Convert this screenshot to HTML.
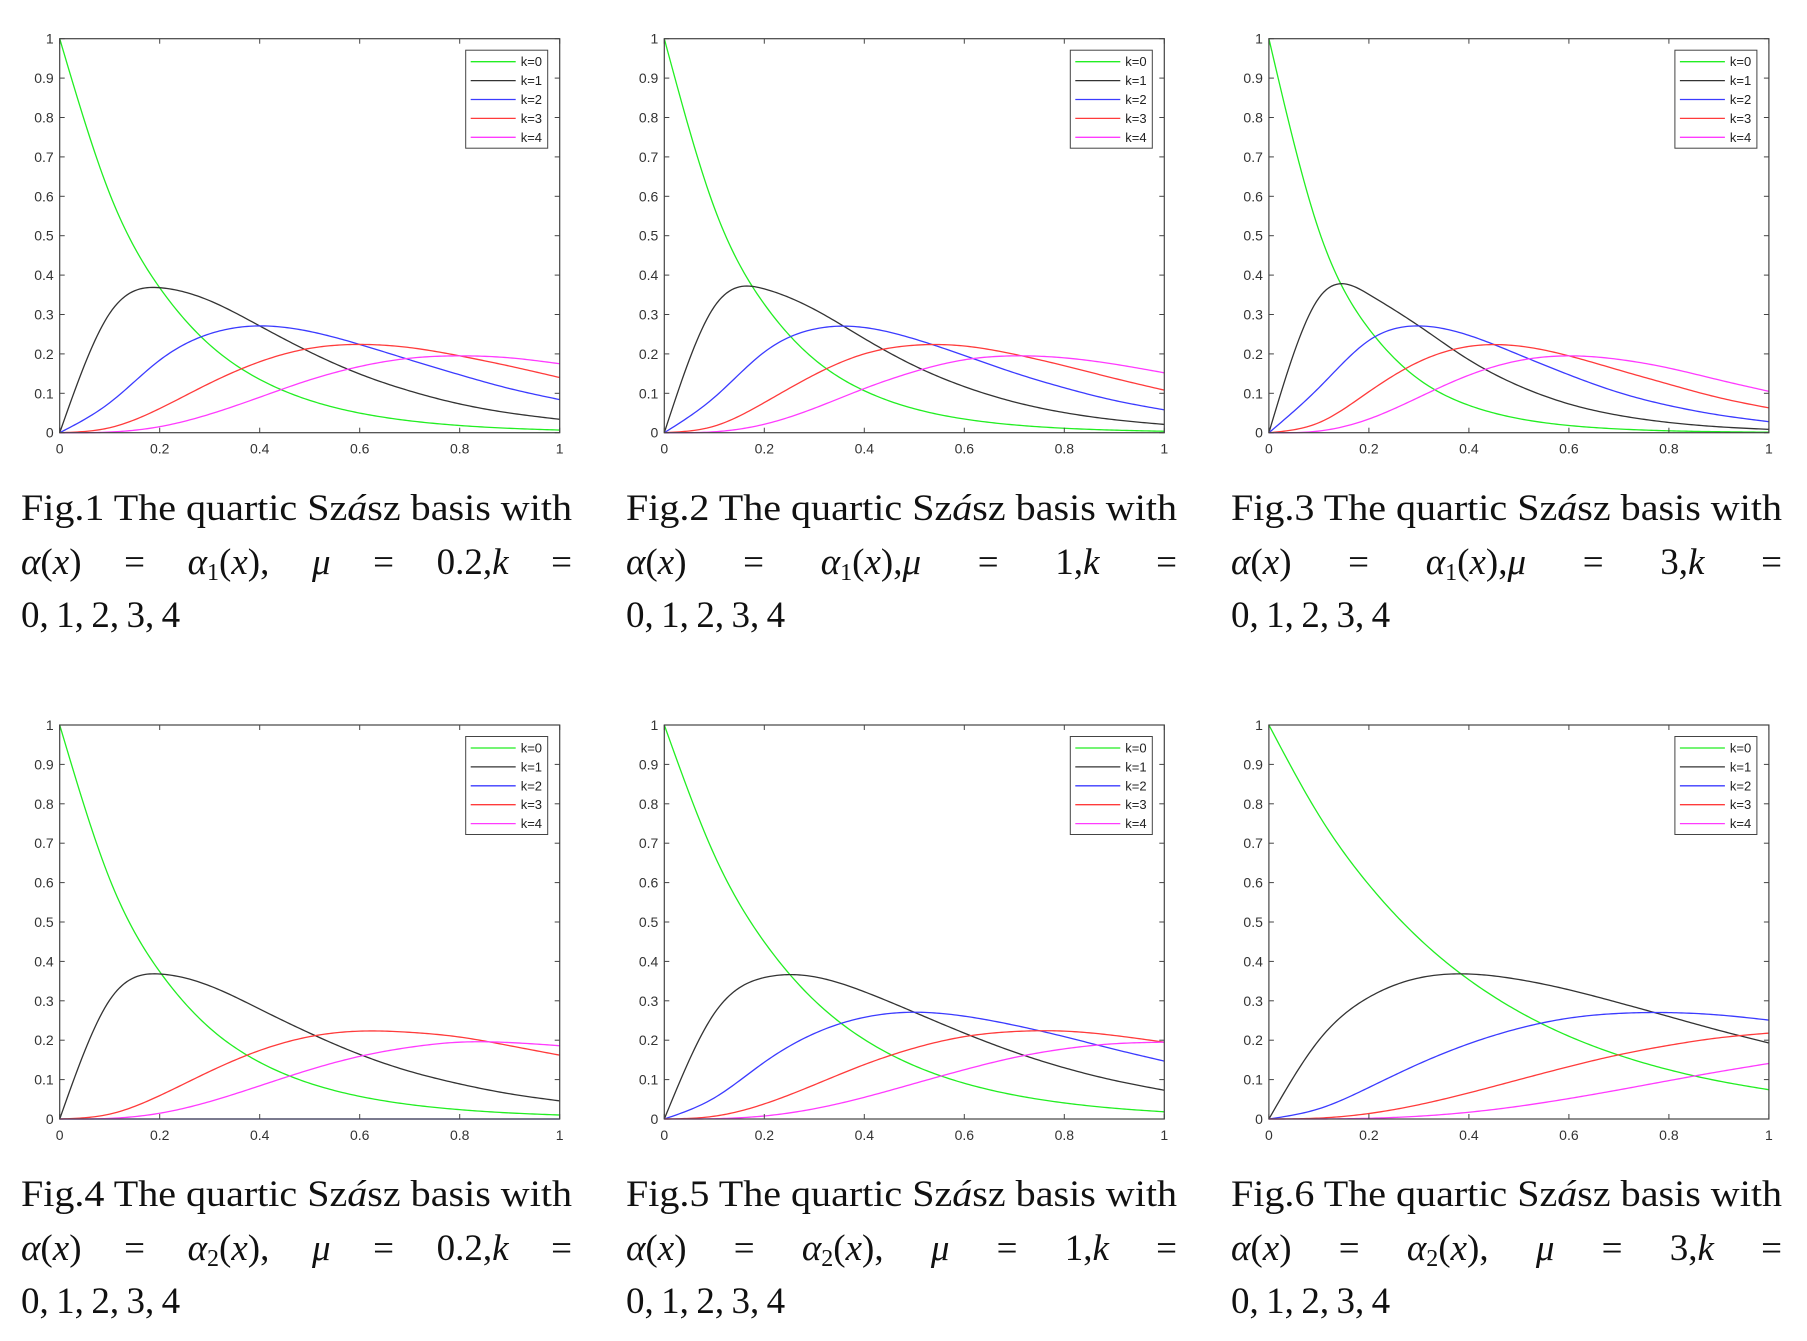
<!DOCTYPE html>
<html><head><meta charset="utf-8">
<style>
body{margin:0;background:#fff;width:1807px;height:1341px;position:relative;overflow:hidden;font-family:"Liberation Serif",serif;}
.cap{position:absolute;width:551px;font-size:37px;color:#111;line-height:1;}
.ln{position:absolute;left:0;width:551px;display:flex;justify-content:space-between;white-space:nowrap;}
.ln1{display:block;transform-origin:0 0;width:auto;}
.ln3{justify-content:flex-start;}
i{font-style:italic;}
sub{font-size:24px;vertical-align:-6px;line-height:0;}
svg text{font-family:"Liberation Sans",sans-serif;}
</style></head>
<body>
<svg id="charts" width="1807" height="1341" style="position:absolute;left:0;top:0"></svg>

<div class="cap" style="left:21px;top:490px">
<div class="ln ln1" style="top:0">Fig.1 The quartic Sz<i>á</i>sz basis with</div>
<div class="ln" style="top:54px"><span><i>α</i>(<i>x</i>)</span><span>=</span><span><i>α</i><sub>1</sub>(<i>x</i>),</span><span><i>μ</i></span><span>=</span><span>0.2,<i>k</i></span><span>=</span></div>
<div class="ln ln3" style="top:107px"><span>0,&#8201;1,&#8201;2,&#8201;3,&#8201;4</span></div>
</div>
<div class="cap" style="left:626px;top:490px">
<div class="ln ln1" style="top:0">Fig.2 The quartic Sz<i>á</i>sz basis with</div>
<div class="ln" style="top:54px"><span><i>α</i>(<i>x</i>)</span><span>=</span><span><i>α</i><sub>1</sub>(<i>x</i>),<i>μ</i></span><span>=</span><span>1,<i>k</i></span><span>=</span></div>
<div class="ln ln3" style="top:107px"><span>0,&#8201;1,&#8201;2,&#8201;3,&#8201;4</span></div>
</div>
<div class="cap" style="left:1231px;top:490px">
<div class="ln ln1" style="top:0">Fig.3 The quartic Sz<i>á</i>sz basis with</div>
<div class="ln" style="top:54px"><span><i>α</i>(<i>x</i>)</span><span>=</span><span><i>α</i><sub>1</sub>(<i>x</i>),<i>μ</i></span><span>=</span><span>3,<i>k</i></span><span>=</span></div>
<div class="ln ln3" style="top:107px"><span>0,&#8201;1,&#8201;2,&#8201;3,&#8201;4</span></div>
</div>
<div class="cap" style="left:21px;top:1176px">
<div class="ln ln1" style="top:0">Fig.4 The quartic Sz<i>á</i>sz basis with</div>
<div class="ln" style="top:54px"><span><i>α</i>(<i>x</i>)</span><span>=</span><span><i>α</i><sub>2</sub>(<i>x</i>),</span><span><i>μ</i></span><span>=</span><span>0.2,<i>k</i></span><span>=</span></div>
<div class="ln ln3" style="top:107px"><span>0,&#8201;1,&#8201;2,&#8201;3,&#8201;4</span></div>
</div>
<div class="cap" style="left:626px;top:1176px">
<div class="ln ln1" style="top:0">Fig.5 The quartic Sz<i>á</i>sz basis with</div>
<div class="ln" style="top:54px"><span><i>α</i>(<i>x</i>)</span><span>=</span><span><i>α</i><sub>2</sub>(<i>x</i>),</span><span><i>μ</i></span><span>=</span><span>1,<i>k</i></span><span>=</span></div>
<div class="ln ln3" style="top:107px"><span>0,&#8201;1,&#8201;2,&#8201;3,&#8201;4</span></div>
</div>
<div class="cap" style="left:1231px;top:1176px">
<div class="ln ln1" style="top:0">Fig.6 The quartic Sz<i>á</i>sz basis with</div>
<div class="ln" style="top:54px"><span><i>α</i>(<i>x</i>)</span><span>=</span><span><i>α</i><sub>2</sub>(<i>x</i>),</span><span><i>μ</i></span><span>=</span><span>3,<i>k</i></span><span>=</span></div>
<div class="ln ln3" style="top:107px"><span>0,&#8201;1,&#8201;2,&#8201;3,&#8201;4</span></div>
</div>

<script>
const xs = [0,0.1,0.2,0.3,0.4,0.5,0.6,0.7,0.8,0.9,1];
const xTicks = [0,0.2,0.4,0.6,0.8,1];
const xTickLabels = ["0","0.2","0.4","0.6","0.8","1"];
const yTicks = [0,0.1,0.2,0.3,0.4,0.5,0.6,0.7,0.8,0.9,1];
const yTickLabels = ["0","0.1","0.2","0.3","0.4","0.5","0.6","0.7","0.8","0.9","1"];
const seriesNames = ["k=0","k=1","k=2","k=3","k=4"];
const seriesColors = ["#22ee22","#333333","#3b3bff","#ff3b3b","#ff3bff"];

const fig1K0 = [1,.6065,.3679,.2231,.1353,.0821,.0498,.0302,.0183,.0111,.0067];
const fig1K1 = [0,.303,.368,.335,.271,.205,.149,.106,.073,.050,.034];
const fig1K2 = [0,.076,.184,.251,.271,.257,.224,.185,.147,.112,.084];
const fig1K3 = [0,.0126,.0613,.1255,.180,.214,.224,.216,.195,.169,.140];
const fig1K4 = [0,.0016,.0153,.047,.090,.134,.168,.189,.195,.190,.175];

const fig2K0 = [1,.5712,.3263,.1864,.1065,.0608,.0347,.0198,.0113,.0065,.0037];
const fig2K1 = [0,.320,.365,.313,.239,.170,.117,.078,.051,.033,.021];
const fig2K2 = [0,.0896,.2046,.263,.267,.238,.196,.152,.114,.082,.058];
const fig2K3 = [0,.0167,.0764,.147,.200,.222,.220,.199,.170,.138,.108];
const fig2K4 = [0,.0023,.0214,.062,.112,.155,.185,.195,.190,.174,.152];

const fig3K0 = [1,.5134,.2636,.1353,.0695,.0357,.0183,.0094,.0048,.0025,.0013];
const fig3K1 = [0,.342,.351,.271,.185,.119,.073,.044,.026,.015,.0085];
const fig3K2 = [0,.114,.234,.271,.247,.198,.147,.102,.069,.045,.028];
const fig3K3 = [0,.0254,.104,.180,.219,.220,.195,.159,.123,.089,.063];
const fig3K4 = [0,.0042,.0347,.090,.146,.183,.195,.186,.164,.134,.105];

const fig4K0 = [1,.609,.374,.231,.144,.0907,.0575,.0367,.0237,.0154,.0101];
const fig4K1 = [0,.302,.368,.338,.279,.218,.164,.121,.089,.064,.046];
const fig4K2 = [0,0,0,0,0,0,0,0,0,0,0];
const fig4K3 = [0,.0124,.0594,.1207,.174,.209,.223,.220,.208,.186,.162];
const fig4K4 = [0,.0015,.0146,.0442,.0842,.125,.159,.182,.195,.194,.186];

const fig5K0 = [1,.6703,.4493,.3012,.2019,.1353,.0907,.0608,.0408,.0273,.0183];
const fig5K1 = [0,.268,.359,.361,.323,.271,.218,.170,.130,.098,.073];
const fig5K2 = [0,.0536,.144,.217,.258,.271,.261,.238,.209,.177,.147];
const fig5K3 = [0,.0071,.0383,.0867,.138,.180,.209,.222,.223,.212,.195];
const fig5K4 = [0,.0007,.0077,.026,.055,.090,.125,.156,.178,.191,.195];

const fig6K0 = [1,.7711,.5945,.4584,.3535,.2725,.2101,.1620,.1249,.0963,.0743];
const fig6K1 = [0,.200,.309,.358,.368,.354,.328,.295,.260,.225,.193];
const fig6K2 = [0,.026,.080,.140,.191,.230,.256,.268,.270,.264,.251];
const fig6K3 = [0,.0023,.0139,.0363,.0663,.0998,.133,.163,.187,.206,.218];
const fig6K4 = [0,.0001,.0018,.0071,.0172,.0324,.0519,.0740,.0974,.120,.141];

const figures = [
  [fig1K0,fig1K1,fig1K2,fig1K3,fig1K4],
  [fig2K0,fig2K1,fig2K2,fig2K3,fig2K4],
  [fig3K0,fig3K1,fig3K2,fig3K3,fig3K4],
  [fig4K0,fig4K1,fig4K2,fig4K3,fig4K4],
  [fig5K0,fig5K1,fig5K2,fig5K3,fig5K4],
  [fig6K0,fig6K1,fig6K2,fig6K3,fig6K4]
];

const NS = "http://www.w3.org/2000/svg";
const root = document.getElementById("charts");
function mk(tag, attrs, parent){
  const e = document.createElementNS(NS, tag);
  for (const k in attrs) e.setAttribute(k, attrs[k]);
  parent.appendChild(e);
  return e;
}
const PW = 500, PH = 394;

// natural cubic spline through (xs, ys), evaluated densely
function splineSample(X, Y, n){
  const N = X.length, h = [], a = [], m = new Array(N).fill(0);
  for (let i = 0; i < N-1; i++) h.push(X[i+1]-X[i]);
  const lo = new Array(N).fill(0), di = new Array(N).fill(1), up = new Array(N).fill(0), r = new Array(N).fill(0);
  for (let i = 1; i < N-1; i++){
    lo[i] = h[i-1]; di[i] = 2*(h[i-1]+h[i]); up[i] = h[i];
    r[i] = 6*((Y[i+1]-Y[i])/h[i] - (Y[i]-Y[i-1])/h[i-1]);
  }
  for (let i = 1; i < N; i++){ const w = lo[i]/di[i-1]; di[i] -= w*up[i-1]; r[i] -= w*r[i-1]; }
  m[N-1] = r[N-1]/di[N-1];
  for (let i = N-2; i >= 0; i--) m[i] = (r[i]-up[i]*m[i+1])/di[i];
  m[0] = 0; m[N-1] = 0;
  const out = [];
  for (let s = 0; s <= n; s++){
    const x = X[0] + (X[N-1]-X[0])*s/n;
    let i = Math.min(N-2, Math.floor((x-X[0])/h[0]));
    const t1 = X[i+1]-x, t0 = x-X[i], hh = h[i];
    const y = m[i]*t1*t1*t1/(6*hh) + m[i+1]*t0*t0*t0/(6*hh) + (Y[i]/hh - m[i]*hh/6)*t1 + (Y[i+1]/hh - m[i+1]*hh/6)*t0;
    out.push([x, Math.max(0, y)]);
  }
  return out;
}

figures.forEach((series, fi) => {
  const col = fi % 3, row = Math.floor(fi / 3);
  const L = 59.7 + col * 604.6, T = 38.7 + row * 686.3;
  const sx = v => L + v * PW;
  const sy = v => T + PH - v * PH;
  const g = mk("g", {}, root);
  
  

  series.forEach((vals, si) => {
    const pts = splineSample(xs, vals, 200).map(p => sx(p[0]).toFixed(2) + "," + sy(p[1]).toFixed(2));
    const p = mk("polyline", {points: pts.join(" "), fill: "none", stroke: seriesColors[si], "stroke-width": 1.3}, g);
    
    
  });

  const box = mk("rect", {x: L, y: T, width: PW, height: PH, fill: "none", stroke: "#444", "stroke-width": 1.2}, g);
  
  

  xTicks.forEach((t, i) => {
    const x = sx(t);
    mk("line", {x1: x, y1: T+PH, x2: x, y2: T+PH-5, stroke: "#444", "stroke-width": 1}, g);
    mk("line", {x1: x, y1: T, x2: x, y2: T+5, stroke: "#444", "stroke-width": 1}, g);
    const tx = mk("text", {x: x, y: T+PH+21, "font-size": 14, fill: "#333", "text-anchor": "middle"}, g);
    tx.textContent = xTickLabels[i];
    
    
  });
  yTicks.forEach((t, i) => {
    const y = sy(t);
    mk("line", {x1: L, y1: y, x2: L+5, y2: y, stroke: "#444", "stroke-width": 1}, g);
    mk("line", {x1: L+PW, y1: y, x2: L+PW-5, y2: y, stroke: "#444", "stroke-width": 1}, g);
    const ty = mk("text", {x: L-6, y: y+5, "font-size": 14, fill: "#333", "text-anchor": "end"}, g);
    ty.textContent = yTickLabels[i];
    
    
  });

  const lg = mk("g", {}, g);
  
  
  const LX = L + 406, LY = T + 11.5;
  mk("rect", {x: LX, y: LY, width: 82, height: 98, fill: "#fff", stroke: "#444", "stroke-width": 1}, lg);
  seriesNames.forEach((n, si) => {
    const y = LY + 11.5 + si * 18.9;
    const ent = mk("g", {}, lg);
    
    
    mk("line", {x1: LX+5, y1: y, x2: LX+50, y2: y, stroke: seriesColors[si], "stroke-width": 1.3}, ent);
    const t = mk("text", {x: LX+55, y: y+4.5, "font-size": 13, fill: "#222"}, ent);
    t.textContent = n;
  });
});

// stretch first caption lines to full justified width
document.querySelectorAll('.ln1').forEach(el => {
  const w = el.getBoundingClientRect().width;
  if (w > 0) el.style.transform = 'scaleX(' + (551 / w) + ')';
});
</script>
</body></html>
